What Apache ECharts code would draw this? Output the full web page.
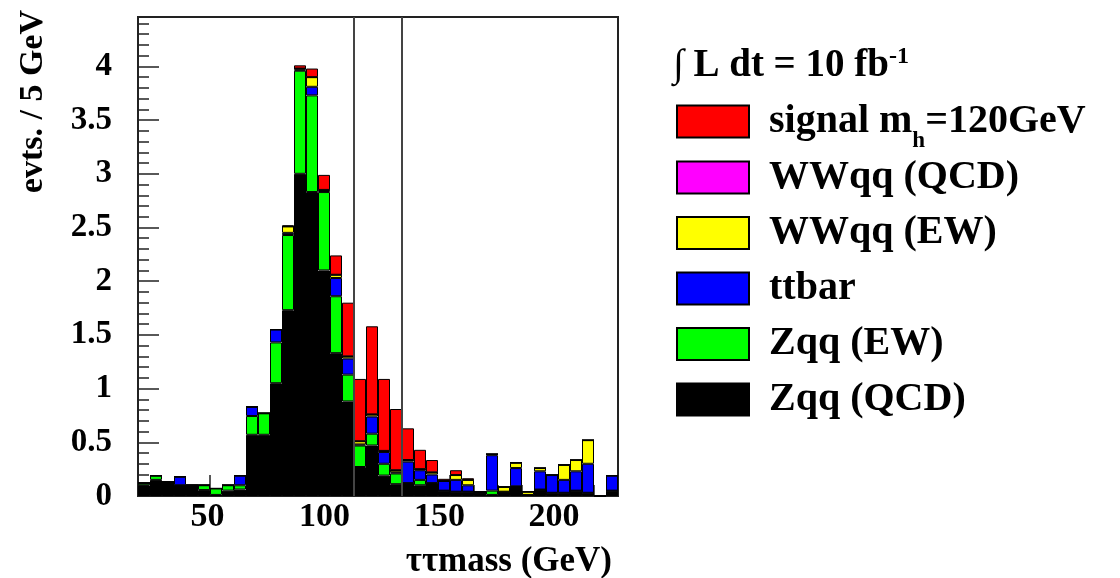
<!DOCTYPE html>
<html>
<head>
<meta charset="utf-8">
<script src="https://cdn.jsdelivr.net/npm/echarts@6/dist/echarts.min.js"></script>
<style>
html,body{margin:0;padding:0;background:#fff;}
#chart{width:1120px;height:578px;}
</style>
</head>
<body>
<div id="chart"></div>
<script>
// 5 GeV bins from 20 to 220 GeV
const binLabels = ['20-25','25-30','30-35','35-40','40-45','45-50','50-55','55-60','60-65','65-70',
  '70-75','75-80','80-85','85-90','90-95','95-100','100-105','105-110','110-115','115-120',
  '120-125','125-130','130-135','135-140','140-145','145-150','150-155','155-160','160-165','165-170',
  '170-175','175-180','180-185','185-190','190-195','195-200','200-205','205-210','210-215','215-220'];

// per-process contributions (evts / 5 GeV), stacked bottom -> top
const zqqQCD = [0.10,0.15,0.13,0.10,0.10,0.055,0.01,0.05,0.06,0.57,
  0.57,1.05,1.73,3.00,2.83,2.10,1.33,0.88,0.27,0.47,
  0.19,0.11,0.12,0.10,0.12,0.05,0.04,0.04,0.03,0.01,
  0.04,0.09,0.01,0.06,0.03,0.03,0.05,0.03,0,0.05];
const zqqEW = [0.02,0.04,0,0,0,0.045,0.06,0.05,0.04,0.175,
  0.20,0.38,0.70,0.96,0.90,0.73,0.53,0.25,0.20,0.11,
  0.11,0.10,0,0.05,0,0,0,0,0,0.04,
  0,0,0,0,0,0,0,0,0,0];
const ttbar = [0,0,0,0.08,0,0,0,0,0.09,0.085,
  0,0.12,0.02,0.01,0.08,0.01,0.17,0.15,0.01,0.16,
  0.11,0.01,0.20,0.09,0.08,0.09,0.11,0.06,0,0.33,
  0,0.17,0,0.17,0.165,0.12,0.18,0.27,0,0.14];
const wwqqEW = [0,0,0,0,0,0,0,0,0,0,
  0,0,0.06,0.01,0.09,0.01,0.03,0.02,0.03,0.02,
  0.01,0.02,0.015,0.01,0.02,0,0.045,0.05,0.01,0.01,
  0.045,0.05,0.03,0.03,0,0.14,0.105,0.22,0,0];
const wwqqQCD = [0,0,0,0,0,0,0,0,0,0,
  0,0,0,0,0,0,0,0,0,0,
  0,0,0,0,0,0,0,0,0,0,
  0,0,0,0,0,0,0,0,0,0];
const signal = [0,0,0,0,0,0,0,0,0,0,
  0,0,0.01,0.03,0.08,0.14,0.18,0.50,0.58,0.82,
  0.67,0.57,0.295,0.18,0.115,0.02,0.045,0.015,0,0,
  0,0,0,0,0,0,0,0,0,0];

const cutLines = [110, 130];
const xTickLabels = [50, 100, 150, 200];

const FONT = '"Liberation Serif", "Times New Roman", serif';

const layers = [
  {name: 'Zqq (QCD)', data: zqqQCD, color: '#000000'},
  {name: 'Zqq (EW)', data: zqqEW, color: '#00ff00'},
  {name: 'ttbar', data: ttbar, color: '#0000ff'},
  {name: 'WWqq (EW)', data: wwqqEW, color: '#ffff00'},
  {name: 'WWqq (QCD)', data: wwqqQCD, color: '#ff00ff'},
  {name: 'signal', data: signal, color: '#ff0000'}
];

const series = layers.map(l => ({
  type: 'bar',
  name: l.name,
  stack: 'all',
  xAxisIndex: 0,
  yAxisIndex: 0,
  data: l.data,
  barCategoryGap: '0%',
  itemStyle: {color: l.color, borderColor: '#000', borderWidth: 1},
  emphasis: {disabled: true},
  silent: true
}));

series.push({
  type: 'line',
  xAxisIndex: 1,
  yAxisIndex: 0,
  data: [],
  silent: true,
  markLine: {
    silent: true,
    symbol: 'none',
    label: {show: false},
    lineStyle: {color: '#444', width: 2, type: 'solid'},
    data: cutLines.map(v => ({xAxis: v}))
  },
  z: 5
});

const base = {fontFamily: FONT, fontWeight: 'bold', color: '#000'};
const xLabelShift = {50: 5, 100: 11, 150: 21, 200: 32};
const xRich = {};
xTickLabels.forEach(v => {
  xRich['t' + v] = Object.assign({}, base, {fontSize: 34, padding: [0, xLabelShift[v], 0, 0]});
});

const chart = echarts.init(document.getElementById('chart'), null, {renderer: 'canvas'});
chart.setOption({
  animation: false,
  backgroundColor: '#fff',
  grid: {left: 138, right: 502, top: 17, bottom: 82, show: true, borderColor: '#222', borderWidth: 2, backgroundColor: 'transparent'},
  title: {
    text: '∫ L dt = 10 fb{sup|-1}',
    left: 673, top: 45,
    padding: 0,
    textStyle: Object.assign({}, base, {
      fontSize: 39, lineHeight: 42,
      rich: {sup: Object.assign({}, base, {fontSize: 24, lineHeight: 24, padding: [0, 0, 18, 0]})}
    })
  },
  legend: {
    orient: 'vertical',
    left: 676, top: 90,
    padding: 0,
    itemWidth: 72, itemHeight: 32, itemGap: -6.5,
    selectedMode: false,
    icon: 'rect',
    data: ['signal', 'WWqq (QCD)', 'WWqq (EW)', 'ttbar', 'Zqq (EW)', 'Zqq (QCD)'],
    formatter: n => n === 'signal' ? '{m|signal m}{sub|h}{m|=120GeV}' : '{m|' + n + '}',
    textStyle: Object.assign({}, base, {
      fontSize: 40,
      padding: [0, 0, 0, 15],
      rich: {
        m: Object.assign({}, base, {fontSize: 40, lineHeight: 40, padding: [11, 0, 11, 0]}),
        sub: Object.assign({}, base, {fontSize: 23, lineHeight: 22, padding: [40, 0, 0, 0]})
      }
    })
  },
  xAxis: [
    {type: 'category', data: binLabels, show: false, boundaryGap: true},
    {
      type: 'value', min: 20, max: 220, splitNumber: 4, position: 'bottom',
      axisLine: {show: true, onZero: false, lineStyle: {color: '#222', width: 2}},
      axisTick: {show: true, inside: true, length: 21, lineStyle: {color: '#222', width: 1.5}},
      minorTick: {show: true, splitNumber: 5, length: 11, lineStyle: {color: '#222', width: 1.5}},
      splitLine: {show: false},
      axisLabel: Object.assign({}, base, {
        margin: 4, fontSize: 34,
        formatter: v => xTickLabels.indexOf(v) >= 0 ? '{t' + v + '|' + v + '}' : '',
        rich: xRich
      })
    }
  ],
  yAxis: {
    type: 'value', min: 0, max: 4.46, interval: 0.5,
    axisLine: {show: true, lineStyle: {color: '#222', width: 2}},
    axisTick: {show: true, inside: true, length: 21, lineStyle: {color: '#222', width: 1.5}},
    minorTick: {show: true, splitNumber: 5, length: 11, lineStyle: {color: '#222', width: 1.5}},
    splitLine: {show: false},
    axisLabel: Object.assign({}, base, {
      margin: 26, fontSize: 33,
      formatter: v => (Math.abs(v * 2 - Math.round(v * 2)) < 1e-6 && v <= 4.0001) ? String(v) : ''
    })
  },
  graphic: [
    {
      type: 'text', x: 33, y: 10, rotation: Math.PI / 2,
      style: {text: 'evts. / 5 GeV', font: 'bold 34px ' + FONT, fill: '#000',
        textAlign: 'right', align: 'right', textVerticalAlign: 'middle', verticalAlign: 'middle'}
    },
    {
      type: 'text', x: 612, y: 562,
      style: {text: 'ττmass (GeV)', font: 'bold 35px ' + FONT, fill: '#000',
        textAlign: 'right', align: 'right', textVerticalAlign: 'middle', verticalAlign: 'middle'}
    }
  ],
  series: series
});
</script>
</body>
</html>
